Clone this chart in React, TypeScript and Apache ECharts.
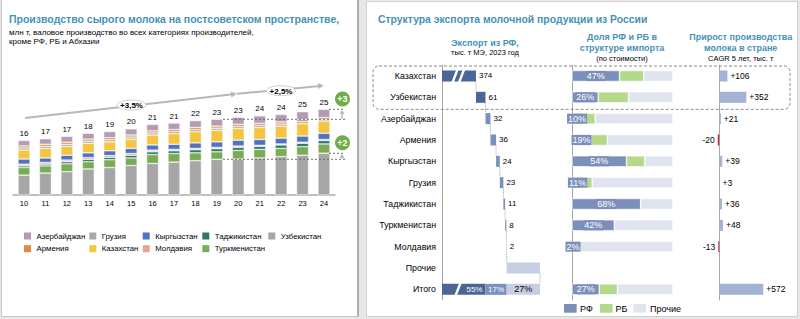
import React, { useEffect, useRef } from 'react';
import * as echarts from 'echarts';

const FONT = '"Liberation Sans", Arial, sans-serif';

// ---------- Left chart: raw milk production, mln t ----------
const YEARS = ['10', '11', '12', '13', '14', '15', '16', '17', '18', '19', '20', '21', '22', '23', '24'];
const TOTAL_LABELS = [16, 17, 17, 18, 19, 20, 21, 21, 22, 23, 23, 24, 24, 25, 25];
const UZBEKISTAN = [5.8, 6.4, 6.8, 7.6, 8.0, 8.6, 9.2, 9.6, 10.0, 10.4, 10.5, 10.8, 11.2, 11.6, 12.2];
const TURKMENISTAN = [2.2, 2.1, 2.3, 2.1, 2.3, 2.2, 2.6, 2.5, 2.3, 2.2, 2.5, 2.5, 2.4, 2.5, 2.7];
const TAJIKISTAN = [0.5, 0.5, 0.6, 0.7, 0.7, 0.8, 0.8, 0.8, 0.9, 0.9, 0.9, 0.9, 1.0, 1.0, 1.0];
const MOLDOVA = [0.5, 0.5, 0.5, 0.5, 0.5, 0.5, 0.5, 0.4, 0.4, 0.4, 0.4, 0.3, 0.3, 0.3, 0.3];
const KYRGYZSTAN = [1.5, 1.3, 1.4, 1.4, 1.4, 1.5, 1.5, 1.5, 1.6, 1.6, 1.7, 1.7, 1.7, 1.8, 1.8];
const KAZAKHSTAN = [2.6, 2.8, 2.6, 2.8, 2.6, 2.7, 2.9, 3.1, 3.3, 3.4, 3.4, 3.5, 3.5, 3.6, 3.6];
const GEORGIA = [0.6, 0.6, 0.6, 0.6, 0.6, 0.6, 0.6, 0.6, 0.6, 0.6, 0.6, 0.6, 0.6, 0.6, 0.5];
const ARMENIA = [0.6, 0.6, 0.6, 0.6, 0.6, 0.6, 0.6, 0.6, 0.6, 0.6, 0.6, 0.6, 0.6, 0.6, 0.5];
const AZERBAIJAN = [1.6, 1.6, 1.7, 1.7, 1.8, 1.8, 1.9, 1.9, 2.0, 2.0, 2.1, 2.2, 2.2, 2.3, 2.4];

const STACK_ORDER = ['Узбекистан', 'Туркменистан', 'Таджикистан', 'Молдавия', 'Кыргызстан', 'Казахстан', 'Грузия', 'Армения', 'Азербайджан'];
const STACK_DATA = [UZBEKISTAN, TURKMENISTAN, TAJIKISTAN, MOLDOVA, KYRGYZSTAN, KAZAKHSTAN, GEORGIA, ARMENIA, AZERBAIJAN];
const COUNTRY_COLORS: Record<string, string> = {
  'Азербайджан': '#b39cb3',
  'Армения': '#e2883f',
  'Грузия': '#a7a7a7',
  'Казахстан': '#f5c441',
  'Кыргызстан': '#4f72c3',
  'Молдавия': '#eba093',
  'Таджикистан': '#2f786c',
  'Туркменистан': '#7aac55',
  'Узбекистан': '#a6a6a6',
};
const LEGEND_ORDER = ['Азербайджан', 'Армения', 'Грузия', 'Казахстан', 'Кыргызстан', 'Молдавия', 'Таджикистан', 'Туркменистан', 'Узбекистан'];
const CAGR_LABELS = ['+3,5%', '+2,5%'];
const DELTA_LABELS = ['+3', '+2'];

// ---------- Right chart ----------
const ROWS = ['Казахстан', 'Узбекистан', 'Азербайджан', 'Армения', 'Кыргызстан', 'Грузия', 'Таджикистан', 'Туркменистан', 'Молдавия', 'Прочие', 'Итого'];
const EXPORT_VOL = [374, 61, 32, 36, 24, 23, 11, 8, 2];
const OTHERS_VOL = 214;
const TOTAL_SHARES = [55, 17, 27];
const BREAK_CUT = 156; // part of the Kazakhstan bar removed by the axis break
const BREAK_AT = 103;
const RF_SHARE = [47, 26, 10, 19, 54, 11, 68, 42, 2, null, 27];
const RB_SHARE = [24, 30, 13, 16, 18, 9, 0, 0, 1, null, 18];
const CAGR = [106, 352, 21, -20, 39, 3, 36, 48, -13, null, 572];

const TEAL = '#4592b5';
const DARK = '#4b6596';
const MID = '#7b91bd';
const LIGHT = '#c6cfe2';
const RF_C = '#7b8fba';
const RB_C = '#b5d98a';
const OTH_C = '#dfe4ee';

function arrowHead(x1: number, y1: number, x2: number, y2: number, len: number, hw: number) {
  const dx = x2 - x1, dy = y2 - y1;
  const l = Math.sqrt(dx * dx + dy * dy);
  const ux = dx / l, uy = dy / l;
  const bx = x2 - ux * len, by = y2 - uy * len;
  return [[x2, y2], [bx - uy * hw, by + ux * hw], [bx + uy * hw, by - ux * hw]];
}

function txt(text: string, x: number, y: number, size: number, opts: any = {}) {
  return {
    type: 'text',
    z: 100,
    style: {
      text, x, y,
      font: `${opts.bold ? 'bold ' : ''}${size}px ${FONT}`,
      fill: opts.color || '#000',
      textAlign: opts.align || 'left',
      textVerticalAlign: 'middle',
    },
  };
}

export default function App() {
  const ref = useRef<HTMLDivElement>(null);
  useEffect(() => {
    if (!ref.current) return;
    document.body.style.margin = '0';
    const chart = echarts.init(ref.current, undefined, { renderer: 'svg' });

    // waterfall computations
    const plotted = EXPORT_VOL.map((v, i) => (i === 0 ? v - BREAK_CUT : v));
    const starts: number[] = [];
    let acc = 0;
    plotted.forEach((v) => { starts.push(acc); acc += v; });
    const othersStart = acc;
    const grandEnd = acc + OTHERS_VOL;
    const topPair = plotted[0] + plotted[1];
    const restSum = plotted.slice(2).reduce((a, b) => a + b, 0);
    const lastRow = ROWS.length - 1;
    const othersRow = ROWS.length - 2;

    const baseData = [...starts, othersStart, 0];
    const darkData = ROWS.map((_, i) => {
      if (i < 2) return { value: plotted[i], label: { show: true, position: 'right', distance: 3, formatter: String(EXPORT_VOL[i]) } };
      if (i === lastRow) return { value: topPair, label: { show: true, position: 'insideRight', distance: 3, color: '#fff', formatter: TOTAL_SHARES[0] + '%' } };
      return 0;
    });
    const midData = ROWS.map((_, i) => {
      if (i >= 2 && i < EXPORT_VOL.length) return { value: plotted[i], label: { show: true, position: 'right', distance: 3, formatter: String(EXPORT_VOL[i]) } };
      if (i === lastRow) return { value: restSum, label: { show: true, position: 'inside', color: '#fff', formatter: TOTAL_SHARES[1] + '%' } };
      return 0;
    });
    const lightData = ROWS.map((_, i) => {
      if (i === othersRow) return OTHERS_VOL;
      if (i === lastRow) return { value: OTHERS_VOL, label: { show: true, position: 'inside', color: '#000', formatter: TOTAL_SHARES[2] + '%' } };
      return 0;
    });
    const connectorData = ROWS.slice(0, lastRow).map((_, i) => [i < EXPORT_VOL.length ? starts[i] + plotted[i] : grandEnd, i]);

    const rowSeriesBase = { type: 'bar', xAxisIndex: 1, yAxisIndex: 1, stack: 'w', barWidth: 11 };

    const prodSeries = STACK_ORDER.map((name, k) => ({
      type: 'bar',
      name,
      stack: 'prod',
      xAxisIndex: 0,
      yAxisIndex: 0,
      barWidth: 12,
      data: STACK_DATA[k],
      itemStyle: { color: COUNTRY_COLORS[name], borderColor: '#fff', borderWidth: 0.5 },
      label: k === STACK_ORDER.length - 1
        ? { show: true, position: 'top', distance: 3, fontSize: 8, color: '#000', formatter: (p: any) => String(TOTAL_LABELS[p.dataIndex]) }
        : { show: false },
    }));

    const legendGraphics: any[] = [];
    const LEG_X = [24, 89.3, 142.7, 202.3, 268.3];
    const LEG_Y = [236, 248.7];
    LEGEND_ORDER.forEach((name, k) => {
      const x = LEG_X[Math.floor(k / 2)];
      const y = LEG_Y[k % 2];
      legendGraphics.push({ type: 'rect', z: 100, shape: { x, y: y - 3.5, width: 7, height: 7 }, style: { fill: COUNTRY_COLORS[name] } });
      legendGraphics.push(txt(name, x + 12.5, y, 7.8));
    });

    const a1 = [25, 118, 237, 93.8];
    const a2 = [237, 93.8, 324, 85.5];

    const option: any = {
      animation: false,
      backgroundColor: '#e7e7e7',
      textStyle: { fontFamily: FONT },
      grid: [
        { left: 13.3, top: 195 - 3.428 * 30, width: 321.4, height: 3.428 * 30, outerBoundsMode: 'none' },
        { left: 442, top: 65.3, width: 98, height: 234.7, outerBoundsMode: 'none' },
        { left: 572, top: 65.3, width: 101, height: 234.7, outerBoundsMode: 'none' },
        { left: 700, top: 65.3, width: 90, height: 234.7, outerBoundsMode: 'none' },
      ],
      xAxis: [
        {
          type: 'category', gridIndex: 0, data: YEARS,
          axisLine: { lineStyle: { color: '#bfbfbf', width: 2 } },
          axisTick: { show: false },
          axisLabel: { fontSize: 7.5, color: '#000', margin: 4 },
        },
        { type: 'value', gridIndex: 1, min: 0, max: grandEnd, show: false },
        { type: 'value', gridIndex: 2, min: 0, max: 100, show: false },
        { type: 'value', gridIndex: 3, min: -250, max: 919, show: false },
      ],
      yAxis: [
        { type: 'value', gridIndex: 0, min: 0, max: 30, show: false },
        {
          type: 'category', gridIndex: 1, data: ROWS, inverse: true,
          axisLine: { show: true, lineStyle: { color: '#a6a6a6', width: 1 } },
          axisTick: { show: false },
          axisLabel: { fontSize: 8.8, color: '#000', margin: 6 },
        },
        {
          type: 'category', gridIndex: 2, data: ROWS, inverse: true,
          axisLine: { show: true, lineStyle: { color: '#a6a6a6', width: 1 } },
          axisTick: { show: false }, axisLabel: { show: false },
        },
        {
          type: 'category', gridIndex: 3, data: ROWS, inverse: true,
          axisLine: { show: true, onZero: true, lineStyle: { color: '#a6a6a6', width: 1 } },
          axisTick: { show: false }, axisLabel: { show: false },
        },
      ],
      series: [
        ...prodSeries,
        { ...rowSeriesBase, name: 'base', data: baseData, itemStyle: { color: 'transparent' }, silent: true },
        { ...rowSeriesBase, name: 'dark', data: darkData, itemStyle: { color: DARK }, label: { show: false, fontSize: 8, color: '#000' } },
        { ...rowSeriesBase, name: 'mid', data: midData, itemStyle: { color: MID }, label: { show: false, fontSize: 8, color: '#000' } },
        { ...rowSeriesBase, name: 'light', data: lightData, itemStyle: { color: LIGHT }, label: { show: false, fontSize: 9, color: '#000' } },
        {
          type: 'custom', xAxisIndex: 1, yAxisIndex: 1, z: 5, silent: true,
          data: connectorData,
          renderItem: (params: any, api: any) => {
            const x = api.value(0), r = api.value(1);
            const p1 = api.coord([x, r]);
            const p2 = api.coord([x, r + 1]);
            return {
              type: 'line',
              shape: { x1: p1[0], y1: p1[1] + 5.5, x2: p2[0], y2: p2[1] - 5.5 },
              style: { stroke: '#8a8a8a', lineWidth: 0.8, lineDash: [1, 1] },
            };
          },
        },
        {
          type: 'custom', xAxisIndex: 1, yAxisIndex: 1, z: 6, silent: true,
          data: [[BREAK_AT, 0, 2], [BREAK_AT, lastRow, 1]],
          renderItem: (params: any, api: any) => {
            const c = api.coord([api.value(0), api.value(1)]);
            const n = api.value(2);
            const offs = n === 2 ? [-3, 3.5] : [0];
            const h = 6.5, s = 2.5, w = 2.6;
            return {
              type: 'group',
              children: offs.map((o) => ({
                type: 'polygon',
                shape: {
                  points: [
                    [c[0] + o - s - w / 2, c[1] + h], [c[0] + o - s + w / 2, c[1] + h],
                    [c[0] + o + s + w / 2, c[1] - h], [c[0] + o + s - w / 2, c[1] - h],
                  ],
                },
                style: { fill: '#fff' },
              })),
            };
          },
        },
        {
          type: 'bar', name: 'РФ', xAxisIndex: 2, yAxisIndex: 2, stack: 's', barWidth: 11,
          data: RF_SHARE.map((v) => (v == null ? '-' : v)),
          itemStyle: { color: RF_C, borderColor: '#fff', borderWidth: 0.6 },
          label: { show: true, position: 'inside', fontSize: 9, color: '#fff', backgroundColor: RF_C, padding: [1, 1, 0, 1], formatter: '{c}%' },
        },
        {
          type: 'bar', name: 'РБ', xAxisIndex: 2, yAxisIndex: 2, stack: 's', barWidth: 11,
          data: RB_SHARE.map((v) => (v == null ? '-' : v)),
          itemStyle: { color: RB_C, borderColor: '#fff', borderWidth: 0.6 },
        },
        {
          type: 'bar', name: 'Прочие', xAxisIndex: 2, yAxisIndex: 2, stack: 's', barWidth: 11,
          data: RF_SHARE.map((v, i) => (v == null ? '-' : 100 - v - (RB_SHARE[i] as number))),
          itemStyle: { color: OTH_C, borderColor: '#fff', borderWidth: 0.6 },
        },
        {
          type: 'bar', name: 'CAGR', xAxisIndex: 3, yAxisIndex: 3, barWidth: 11,
          data: CAGR.map((v) => {
            if (v == null) return '-';
            return v >= 0
              ? { value: v, itemStyle: { color: '#a3b3d3' }, label: { show: true, position: 'right', distance: 3, formatter: '+' + v } }
              : { value: v, itemStyle: { color: '#c8323f' }, label: { show: true, position: 'left', distance: 3, formatter: String(v) } };
          }),
          label: { fontSize: 8.5, color: '#000' },
        },
      ],
      graphic: [
        // panels
        { type: 'rect', z: 0, shape: { x: 1.5, y: -1, width: 356.5, height: 317.5 }, style: { fill: '#fff', stroke: '#c8c8c8', lineWidth: 1 } },
        { type: 'line', z: 0, shape: { x1: 358, y1: 0, x2: 358, y2: 316.5 }, style: { stroke: '#9c9c9c', lineWidth: 1.5 } },
        { type: 'rect', z: 0, shape: { x: 366.5, y: 1.5, width: 431, height: 315 }, style: { fill: '#fff', stroke: '#cfcfcf', lineWidth: 1 } },
        // left titles
        txt('Производство сырого молока на постсоветском пространстве,', 9, 19, 10.5, { bold: true, color: TEAL }),
        txt('млн т, валовое производство во всех категориях производителей,', 9, 32.3, 8),
        txt('кроме РФ, РБ и Абхазии', 9, 41, 8),
        // growth arrows
        { type: 'line', z: 90, shape: { x1: a1[0], y1: a1[1], x2: a1[2] - 4, y2: a1[3] + 0.5 }, style: { stroke: '#b8b8b8', lineWidth: 2 } },
        { type: 'polygon', z: 90, shape: { points: arrowHead(a1[0], a1[1], a1[2], a1[3], 6, 3) }, style: { fill: '#b8b8b8' } },
        { type: 'line', z: 90, shape: { x1: a2[0], y1: a2[1], x2: a2[2] - 4, y2: a2[3] + 0.4 }, style: { stroke: '#b8b8b8', lineWidth: 2 } },
        { type: 'polygon', z: 90, shape: { points: arrowHead(a2[0], a2[1], a2[2], a2[3], 6, 3) }, style: { fill: '#b8b8b8' } },
        { type: 'ellipse', z: 95, shape: { cx: 131.5, cy: 105, rx: 14.5, ry: 5 }, style: { fill: '#fff', stroke: '#c4c4c4', lineWidth: 0.8 } },
        txt(CAGR_LABELS[0], 131.5, 105.3, 8, { bold: true, align: 'center' }),
        { type: 'ellipse', z: 95, shape: { cx: 281, cy: 90.7, rx: 14.5, ry: 5 }, style: { fill: '#fff', stroke: '#c4c4c4', lineWidth: 0.8 } },
        txt(CAGR_LABELS[1], 281, 91, 8, { bold: true, align: 'center' }),
        // dashed reference lines
        { type: 'line', z: 90, shape: { x1: 223, y1: 119.3, x2: 345, y2: 119.3 }, style: { stroke: '#6e6e6e', lineWidth: 1, lineDash: [2, 2] } },
        { type: 'line', z: 90, shape: { x1: 223, y1: 159.3, x2: 345, y2: 159.3 }, style: { stroke: '#6e6e6e', lineWidth: 1, lineDash: [2, 2] } },
        { type: 'line', z: 90, shape: { x1: 329, y1: 109.3, x2: 345, y2: 109.3 }, style: { stroke: '#6e6e6e', lineWidth: 1, lineDash: [2, 2] } },
        { type: 'line', z: 90, shape: { x1: 329, y1: 153.3, x2: 345, y2: 153.3 }, style: { stroke: '#6e6e6e', lineWidth: 1, lineDash: [2, 2] } },
        { type: 'line', z: 90, shape: { x1: 342, y1: 118.5, x2: 342, y2: 113 }, style: { stroke: '#b8b8b8', lineWidth: 1.5 } },
        { type: 'polygon', z: 90, shape: { points: arrowHead(342, 118.5, 342, 110, 4, 2.5) }, style: { fill: '#b8b8b8' } },
        { type: 'line', z: 90, shape: { x1: 342, y1: 158.5, x2: 342, y2: 157 }, style: { stroke: '#b8b8b8', lineWidth: 1.5 } },
        { type: 'polygon', z: 90, shape: { points: arrowHead(342, 158.5, 342, 154, 4, 2.5) }, style: { fill: '#b8b8b8' } },
        { type: 'circle', z: 95, shape: { cx: 342.5, cy: 99, r: 7.5 }, style: { fill: '#71ad47' } },
        txt(DELTA_LABELS[0], 342.5, 99.3, 9, { bold: true, align: 'center', color: '#fff' }),
        { type: 'circle', z: 95, shape: { cx: 342.5, cy: 142.7, r: 7.5 }, style: { fill: '#71ad47' } },
        txt(DELTA_LABELS[1], 342.5, 143, 9, { bold: true, align: 'center', color: '#fff' }),
        ...legendGraphics,
        // right titles
        txt('Структура экспорта молочной продукции из России', 378, 19.3, 10.4, { bold: true, color: TEAL }),
        txt('Экспорт из РФ,', 485, 43.3, 9, { bold: true, color: TEAL, align: 'center' }),
        txt('тыс. т МЭ, 2023 год', 485, 52.7, 7.5, { align: 'center' }),
        txt('Доля РФ и РБ в', 622, 37.3, 9, { bold: true, color: TEAL, align: 'center' }),
        txt('структуре импорта', 622, 48.3, 9, { bold: true, color: TEAL, align: 'center' }),
        txt('(по стоимости)', 622, 58.3, 7.5, { align: 'center' }),
        txt('Прирост производства', 740.7, 37.3, 9, { bold: true, color: TEAL, align: 'center' }),
        txt('молока в стране', 740.7, 48.3, 9, { bold: true, color: TEAL, align: 'center' }),
        txt('CAGR 5 лет, тыс. т', 740.7, 58.3, 7.5, { align: 'center' }),
        // highlight box
        { type: 'rect', z: 100, shape: { x: 373, y: 66, width: 417, height: 43.3, r: 6 }, style: { fill: 'transparent', stroke: '#8a8a8a', lineWidth: 1, lineDash: [3, 2] } },
        // share legend
        { type: 'rect', z: 100, shape: { x: 564, y: 304, width: 12.7, height: 8.7 }, style: { fill: RF_C } },
        txt('РФ', 580, 308.5, 9),
        { type: 'rect', z: 100, shape: { x: 600, y: 304, width: 12.7, height: 8.7 }, style: { fill: RB_C } },
        txt('РБ', 615.5, 308.5, 9),
        { type: 'rect', z: 100, shape: { x: 633.3, y: 304, width: 12.7, height: 8.7 }, style: { fill: OTH_C } },
        txt('Прочие', 650, 308.5, 9),
      ],
    };
    chart.setOption(option);
    return () => chart.dispose();
  }, []);
  return <div ref={ref} style={{ position: 'fixed', left: 0, top: 0, width: 800, height: 319 }} />;
}
